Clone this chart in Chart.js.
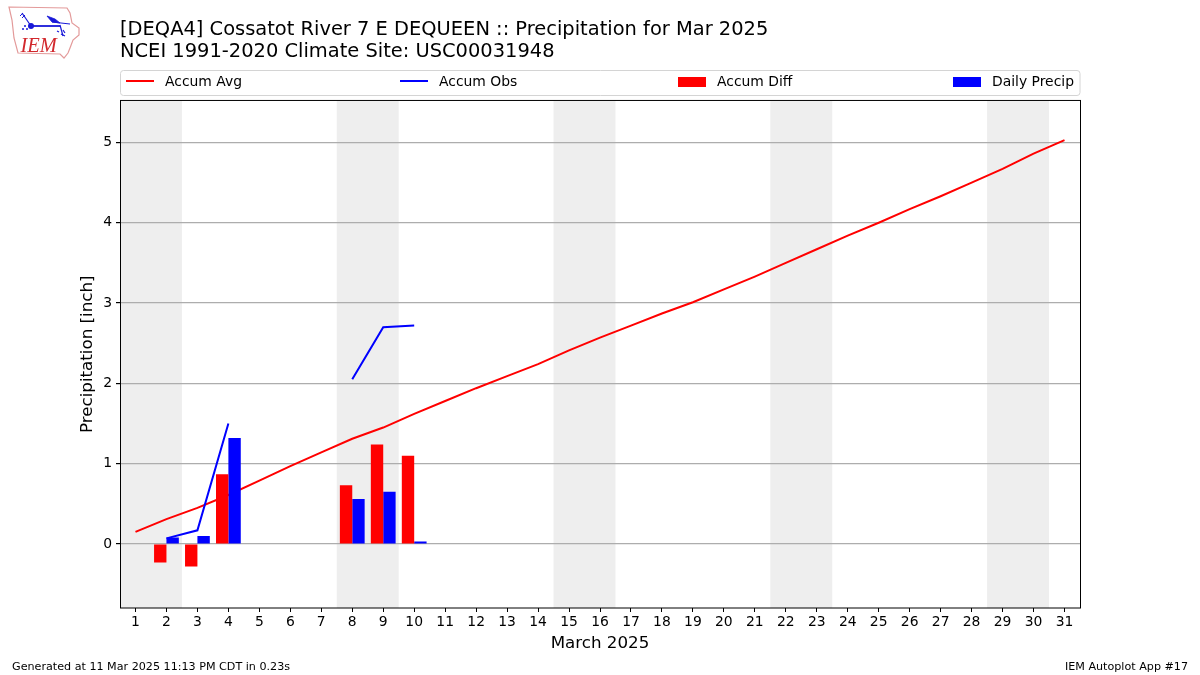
<!DOCTYPE html>
<html>
<head>
<meta charset="utf-8">
<title>Precipitation for Mar 2025</title>
<script src="https://cdn.jsdelivr.net/npm/chart.js@4"></script>
<style>
body { margin: 0; background: #fff; }
#logo { position: absolute; left: 5px; top: 3px; }
</style>
</head>
<body>
<canvas id="precipChart" width="1200" height="675"></canvas>
<svg id="logo" width="78" height="58" viewBox="0 0 78 58">
  <path d="M4 4 L62 5 L65 10 L67 20 L74 25 L74 32 L68 37 L65 45 L63 50 L59 55 L55 51 L13 50 L9 35 L7 17 Z" fill="none" stroke="#e39a9a" stroke-width="1.2"/>
  <g stroke="#1818d8" fill="#1818d8">
    <path d="M17 10 L26 23" fill="none" stroke-width="1.2"/>
    <path d="M15 13 L18 10 M17 15 L20 12" fill="none" stroke-width="1"/>
    <path d="M26 23 L55 23" stroke-width="1.8"/>
    <circle cx="26" cy="23" r="3" stroke="none"/>
    <path d="M42 13 L50 16 L55 20 L47 19 Z" stroke-width="0.8"/>
    <path d="M47 19 L65 21" stroke-width="1"/>
    <path d="M55 22 L58 33" stroke-width="1.2"/>
    <path d="M52 28 L54 29 M58 27 L60 30 M56 31 L60 33" stroke-width="1.2"/>
    <path d="M20 22 L20 24 M17 26 L19 26 M21 26 L23 26" stroke-width="1.5"/>
  </g>
  <text x="15.5" y="48.5" font-family="Liberation Serif" font-style="italic" font-size="20.5" fill="#d2282d">IEM</text>
</svg>
<script>
const days = ['1', '2', '3', '4', '5', '6', '7', '8', '9', '10', '11', '12', '13', '14', '15', '16',
    '17', '18', '19', '20', '21', '22', '23', '24', '25', '26', '27', '28', '29', '30', '31'];
const accumAvg = [0.15, 0.31, 0.45, 0.61, 0.79, 0.97, 1.14, 1.31, 1.45, 1.62, 1.78, 1.94, 2.09, 2.24, 2.41, 2.57,
    2.72, 2.87, 3.01, 3.17, 3.33, 3.50, 3.67, 3.84, 4.00, 4.17, 4.33, 4.50, 4.67, 4.86, 5.03];
const accumObs = [null, 0.07, 0.17, 1.50, null, null, null, 2.05, 2.70, 2.72];
const accumDiff = [null, -0.23, -0.28, 0.87, null, null, null, 0.73, 1.24, 1.10];
const dailyPrecip = [null, 0.08, 0.10, 1.32, null, null, null, 0.56, 0.65, 0.03];
const yTicks = [0, 1, 2, 3, 4, 5];
const weekends = [['1', '2'], ['8', '9'], ['15', '16'], ['22', '23'], ['29', '30']];

const fontName = '"DejaVu Sans"';

// grey weekend bands, frame, legend box and footer: matplotlib look
const decorations = {
    id: 'decorations',
    beforeDraw(chart) {
        const { ctx, chartArea, scales } = chart;
        const halfDay = (scales.x.getPixelForValue(1) - scales.x.getPixelForValue(0)) / 2;
        ctx.save();
        ctx.fillStyle = '#eeeeee';
        weekends.forEach(([a, b]) => {
            const x0 = scales.x.getPixelForValue(days.indexOf(a)) - halfDay;
            const x1 = scales.x.getPixelForValue(days.indexOf(b)) + halfDay;
            ctx.fillRect(x0, chartArea.top, x1 - x0, chartArea.height);
        });
        ctx.restore();
    },
    afterDraw(chart) {
        const { ctx, chartArea } = chart;
        ctx.save();
        ctx.strokeStyle = '#000';
        ctx.lineWidth = 1;
        ctx.strokeRect(chartArea.left + 0.5, chartArea.top, chartArea.width, chartArea.height);

        // legend spread over the axes width
        ctx.strokeStyle = '#d4d4d4';
        ctx.beginPath();
        ctx.roundRect(120.5, 70.5, 959.5, 25, 3);
        ctx.stroke();
        const spots = [126, 400, 678, 953];
        ctx.font = '13.9px ' + fontName;
        ctx.textBaseline = 'middle';
        chart.data.datasets.forEach((ds, i) => {
            const x = spots[i];
            if (ds.type === 'line') {
                ctx.strokeStyle = ds.borderColor;
                ctx.lineWidth = 2;
                ctx.beginPath();
                ctx.moveTo(x, 81);
                ctx.lineTo(x + 28, 81);
                ctx.stroke();
            } else {
                ctx.fillStyle = ds.backgroundColor;
                ctx.fillRect(x, 77, 28, 10);
            }
            ctx.fillStyle = '#000';
            ctx.fillText(ds.label, x + 39, 82);
        });

        ctx.font = '11.15px ' + fontName;
        ctx.fillStyle = '#000';
        ctx.fillText('Generated at 11 Mar 2025 11:13 PM CDT in 0.23s', 12, 667);
        ctx.textAlign = 'right';
        ctx.fillText('IEM Autoplot App #17', 1188, 667);
        ctx.restore();
    }
};

new Chart(document.getElementById('precipChart').getContext('2d'), {
    data: {
        labels: days,
        datasets: [
            { type: 'line', label: 'Accum Avg', data: accumAvg, borderColor: '#ff0000', borderWidth: 2, pointRadius: 0, order: 4 },
            { type: 'line', label: 'Accum Obs', data: accumObs, borderColor: '#0000ff', borderWidth: 2, pointRadius: 0, order: 1 },
            { type: 'bar', label: 'Accum Diff', data: accumDiff, backgroundColor: '#ff0000', order: 3 },
            { type: 'bar', label: 'Daily Precip', data: dailyPrecip, backgroundColor: '#0000ff', order: 3 }
        ]
    },
    options: {
        responsive: false,
        animation: false,
        categoryPercentage: 0.8,
        barPercentage: 1,
        layout: { padding: { left: 78, right: 120 } },
        scales: {
            x: {
                grid: { offset: false, drawOnChartArea: false, tickColor: '#000', tickLength: 4 },
                border: { display: false },
                ticks: { color: '#000', font: { family: fontName, size: 13.9 }, maxRotation: 0, autoSkip: false, padding: 2 },
                title: { display: true, text: 'March 2025', color: '#000', font: { family: fontName, size: 16.7 }, padding: { top: 4, bottom: 21 } },
                afterFit(scale) { scale.height = 67; }
            },
            y: {
                min: -0.797,
                max: 5.523,
                afterBuildTicks(scale) { scale.ticks = yTicks.map(v => ({ value: v })); },
                grid: { color: '#adadad', lineWidth: 1.2, tickColor: '#000', tickLength: 4 },
                border: { display: false },
                ticks: { color: '#000', font: { family: fontName, size: 13.9 }, padding: 4, callback: v => String(v) },
                title: { display: true, text: 'Precipitation [inch]', color: '#000', font: { family: fontName, size: 16.7 }, padding: 0 },
                afterFit(scale) { scale.width = 42; }
            }
        },
        plugins: {
            legend: { display: false },
            tooltip: { enabled: false },
            title: {
                display: true,
                fullSize: false,
                align: 'start',
                text: ['[DEQA4] Cossatot River 7 E DEQUEEN :: Precipitation for Mar 2025', 'NCEI 1991-2020 Climate Site: USC00031948'],
                color: '#000',
                font: { family: fontName, size: 19.45, weight: 'normal', lineHeight: 1.13 },
                padding: { top: 19, bottom: 37.5 }
            }
        }
    },
    plugins: [decorations]
});
</script>
</body>
</html>
